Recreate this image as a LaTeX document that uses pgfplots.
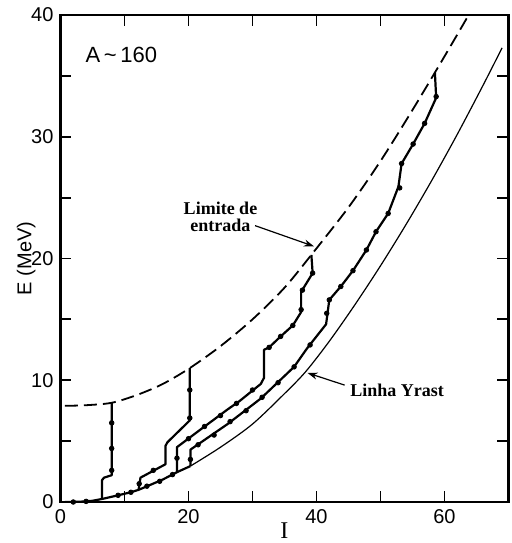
\documentclass[border=0pt]{standalone}
\usepackage{fontspec}
\setmainfont{Liberation Serif}
\newfontfamily\hv{Liberation Sans}
\usepackage{pgfplots}
\pgfplotsset{compat=1.18}
\usetikzlibrary{arrows.meta}

\tikzset{
  cascade/.style = {black, line width=1.1pt, line join=round, no marks},
  dots/.style    = {black, only marks, mark=*, mark size=1.15pt},
}

\begin{document}
\begin{tikzpicture}
\begin{axis}[
    at={(0,0)}, anchor=south west,
    scale only axis,
    width=224pt, height=243.5pt,
    xmin=0, xmax=70, ymin=0, ymax=40,
    xtick={0,20,40,60}, minor xtick={10,30,50,70},
    ytick={0,10,20,30,40}, minor ytick={5,15,25,35},
    tick align=inside,
    major tick length=5.5pt, minor tick length=5.5pt,
    every tick/.style={black, line width=0.9pt},
    axis line style={line width=1.1pt},
    tick label style={font=\hv\fontsize{10}{11}\selectfont},
    /pgf/number format/assume math mode=true,
    xlabel={I},
    xlabel style={font=\rmfamily\fontsize{12}{13}\selectfont, yshift=7pt},
    ylabel={E (MeV)},
    ylabel style={font=\hv\fontsize{10}{11}\selectfont, yshift=-9pt},
]
% limite de entrada
\addplot[black, line width=0.9pt, dash pattern=on 6.5pt off 3pt, smooth] coordinates {
 (0.7,7.9) (4,7.95) (8,8.15) (12,8.8) (16,9.7) (20.2,11.0) (25,12.8) (30,15.0)
 (35,17.6) (39.5,20.5) (45,24.2) (50,28.0) (55,32.2) (60,36.6) (64,40.2)
};
% linha yrast
\addplot[black, line width=0.6pt, smooth] coordinates {
 (20.3,2.95) (25,4.5) (30,6.4) (35,8.9) (38.3,10.7) (42,13.2) (46,16.2)
 (50,19.4) (54,22.8) (58,26.4) (62,30.2) (66,34.2) (69,37.3)
};
% trecho comum junto a linha yrast
\addplot[cascade] coordinates {
 (0.7,0) (3,0.02) (5,0.1) (6.5,0.25) (9,0.55) (11,0.8) (12.2,1.0) (14,1.4)
 (16,1.85) (18.2,2.45) (20.3,2.95)
};
% cascata 1
\addplot[cascade] coordinates {
 (8.0,8.15) (8.0,2.2) (6.8,2.0) (6.5,1.8) (6.5,0.25)
};
% cascata 2
\addplot[cascade] coordinates {
 (20.2,11.0) (20.2,6.7) (16.7,4.9) (16.4,4.6) (16.4,3.1) (12.5,2.0) (12.2,1.0)
};
% cascata 3
\addplot[cascade] coordinates {
 (39.2,20.3) (39.4,18.8) (38.0,17.6) (37.6,17.3) (37.6,15.6) (36.3,14.5)
 (34.4,13.6) (32.6,12.7) (31.8,12.5) (31.8,10.2) (31.3,9.7) (28,8.3)
 (26.1,7.6) (22,6.0) (18.7,4.7) (18.2,4.5) (18.2,2.45)
};
% cascata 4
\addplot[cascade] coordinates {
 (58.5,35.3) (58.7,33.2) (56.9,31.1) (55.1,29.4) (53.3,27.8) (52.8,25.9)
 (51.2,23.7) (49.3,22.2) (47.8,20.7) (45.7,19.0) (43.8,17.7) (42.0,16.6)
 (41.5,14.6) (38.5,12.6) (36.5,11.1) (31.3,8.5) (26.1,6.4) (20.3,4.3) (20.3,2.95)
};
% transicoes (pontos)
\addplot[dots] coordinates {
 (2,0) (4,0.05) (9,0.55) (11,0.8) (13.5,1.3) (15.5,1.7) (17.5,2.25)
 (8.0,6.5) (8.0,4.4) (8.0,2.6)
 (20.2,9.2) (20.2,6.9) (14.5,2.6) (12.3,1.5)
 (39.4,18.8) (37.8,17.4) (37.6,15.8) (36.3,14.5) (34.4,13.6) (32.6,12.7)
 (30,9.2) (27.5,8.1) (25,7.1) (22.5,6.2) (20,5.2) (18.2,3.6)
 (58.7,33.3) (56.9,31.1) (55.1,29.4) (53.3,27.8) (53.0,25.8)
 (51.2,23.7) (49.3,22.2) (47.8,20.7) (45.7,19.0) (43.8,17.7) (42.0,16.6) (41.6,15.5)
 (39,12.9) (36.5,11.1) (34,9.8) (31.5,8.6) (29,7.5) (26.5,6.6) (24,5.5) (21.5,4.7) (20.3,3.5)
};
\node[font=\hv\fontsize{11}{12}\selectfont] at (axis cs:9.5,36.7) {A\,\textasciitilde\,160};
\node[align=center, font=\bfseries\fontsize{9}{8.5}\selectfont] at (axis cs:25,23.4) {Limite de\\entrada};
\draw[-{Stealth[length=5pt,width=3.5pt]}, line width=0.6pt] (axis cs:30.4,22.7) -- (axis cs:39.6,21.0);
\node[font=\bfseries\fontsize{9}{10}\selectfont] at (axis cs:52.6,9.2) {Linha Yrast};
\draw[-{Stealth[length=5pt,width=3.5pt]}, line width=0.6pt] (axis cs:44.4,9.6) -- (axis cs:38.6,10.6);
\end{axis}
\pgfresetboundingbox
\path[use as bounding box] (-30.25pt,-20.5pt) rectangle (225.25pt,251pt);
\end{tikzpicture}
\end{document}
